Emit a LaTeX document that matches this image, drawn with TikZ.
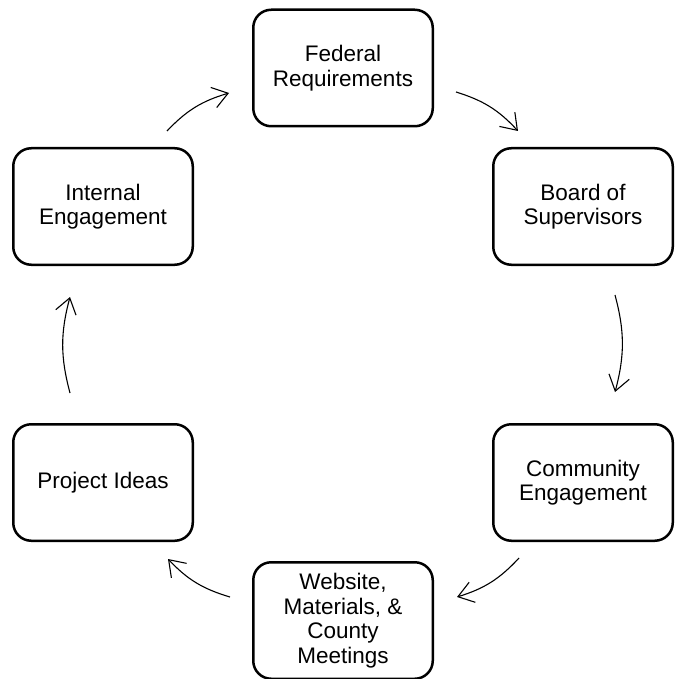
\documentclass[tikz,border=0pt]{standalone}
\usepackage{fontspec}
\setmainfont{Liberation Sans}
\usetikzlibrary{arrows.meta}
\begin{document}
\begin{tikzpicture}[x=1pt,y=-1pt,
  stagebox/.style={draw, line width=2.5pt, rounded corners=18pt,
    minimum width=179.5pt, minimum height=116.5pt, inner sep=0pt,
    align=center, font=\fontsize{22.5}{24.5}\selectfont},
  flow/.style={line width=1.1pt, -{Straight Barb[length=15pt,width=21pt,line width=1.1pt]}, bend left=15}]
\useasboundingbox (0,0) rectangle (677,679);
\node[stagebox] (fed) at (343,68) {Federal\\Requirements};
\node[stagebox] (bos) at (583,206.5) {Board of\\Supervisors};
\node[stagebox] (com) at (583,482.5) {Community\\Engagement};
\node[stagebox] (web) at (343,620.5) {Website,\\Materials, \&\\County\\Meetings};
\node[stagebox] (pro) at (103,482.5) {Project Ideas};
\node[stagebox] (int) at (103,206.5) {Internal\\Engagement};
\coordinate (a1) at (167,131); \coordinate (b1) at (229,93);
\coordinate (a2) at (456,92);  \coordinate (b2) at (518,131);
\coordinate (a3) at (615,295); \coordinate (b3) at (615,392);
\coordinate (a4) at (519,558); \coordinate (b4) at (457,597);
\coordinate (a5) at (230,597); \coordinate (b5) at (168,559);
\coordinate (a6) at (70,393);  \coordinate (b6) at (70,297);
\draw[flow] (a1) to (b1);
\draw[flow] (a2) to (b2);
\draw[flow] (a3) to (b3);
\draw[flow] (a4) to (b4);
\draw[flow] (a5) to (b5);
\draw[flow] (a6) to (b6);
\end{tikzpicture}
\end{document}
